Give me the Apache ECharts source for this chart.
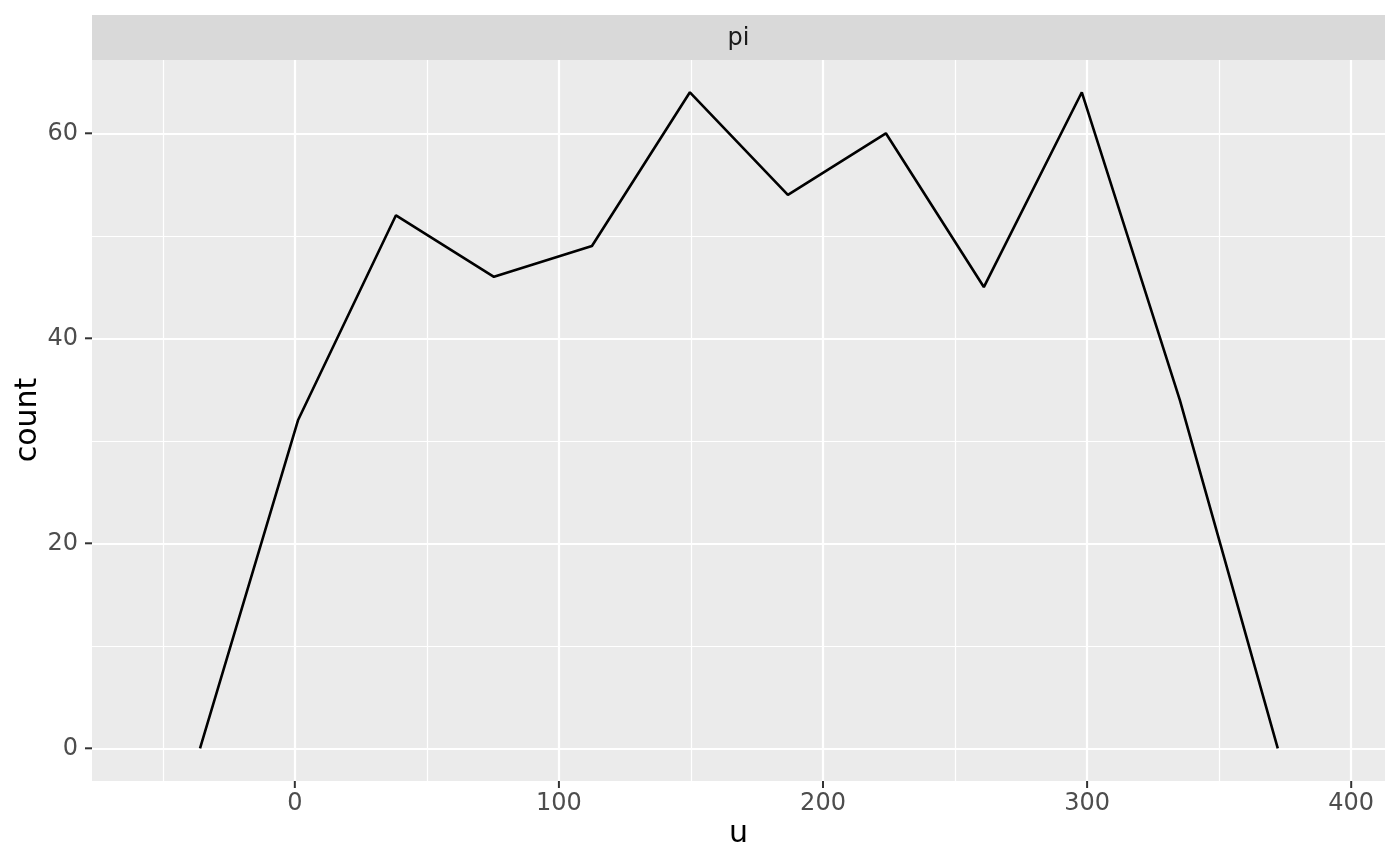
<!DOCTYPE html>
<html>
<head>
<meta charset="utf-8">
<script src="https://cdn.jsdelivr.net/npm/echarts@6/dist/echarts.min.js"></script>
<style>html,body{margin:0;padding:0;background:#fff;}#c{width:1400px;height:865px;}</style>
</head>
<body>
<div id="c"></div>
<script>
// Data
const uCenters = [-35.9, 1.2, 38.3, 75.4, 112.5, 149.6, 186.7, 223.8, 260.9, 298.0, 335.1, 372.2];
const counts = [0, 32, 52, 46, 49, 64, 54, 60, 45, 64, 34, 0];
const xTicks = [0, 100, 200, 300, 400];
const yTicks = [0, 20, 40, 60];
const xMinor = [-50, 50, 150, 250, 350];
const yMinor = [10, 30, 50];
const facetLabel = 'pi';
const xTitle = 'u';
const yTitle = 'count';

const chart = echarts.init(document.getElementById('c'), null, {renderer: 'canvas'});
const FONT = 'DejaVu Sans';
const gridLeft = 92, gridRight = 15, gridTop = 60, gridBottom = 84;
const xMin = -76.8, xMax = 412.8, yMin = -3.19, yMax = 67.15;
const TICK_LEN = 7;

function vLines(vals, w) {
  return vals.map(v => ({xAxis: v, lineStyle: {color: '#ffffff', width: w, type: 'solid'}}));
}
function hLines(vals, w) {
  return vals.map(v => ({yAxis: v, lineStyle: {color: '#ffffff', width: w, type: 'solid'}}));
}

const baseGraphic = [
  {type: 'rect', shape: {x: gridLeft, y: 15, width: 1400 - gridLeft - gridRight, height: 45}, style: {fill: '#d9d9d9'}, z: 10},
  {type: 'text', x: (gridLeft + 1400 - gridRight) / 2, y: 38.5, style: {text: facetLabel, fill: '#1a1a1a', font: '24px "DejaVu Sans"', align: 'center', verticalAlign: 'middle'}, z: 11},
  {type: 'text', x: 738.5, y: 834, style: {text: xTitle, fill: '#000000', font: '30px "DejaVu Sans"', align: 'center', verticalAlign: 'middle'}, z: 11},
  {type: 'text', x: 28, y: 420, rotation: Math.PI / 2, style: {text: yTitle, fill: '#000000', font: '30px "DejaVu Sans"', align: 'center', verticalAlign: 'middle'}, z: 11}
];

const option = {
  backgroundColor: '#ffffff',
  animation: false,
  grid: {
    left: gridLeft, right: gridRight, top: gridTop, bottom: gridBottom,
    show: true, backgroundColor: '#ebebeb', borderWidth: 0, containLabel: false
  },
  xAxis: {
    type: 'value', min: xMin, max: xMax,
    axisLine: {show: false},
    axisTick: {show: false},
    axisLabel: {show: true, customValues: xTicks, color: '#4d4d4d', fontSize: 24, fontFamily: FONT, margin: 11},
    splitLine: {show: false}
  },
  yAxis: {
    type: 'value', min: yMin, max: yMax,
    axisLine: {show: false},
    axisTick: {show: false},
    axisLabel: {show: true, customValues: yTicks, color: '#4d4d4d', fontSize: 24, fontFamily: FONT, margin: 14, padding: [4, 0, 0, 0]},
    splitLine: {show: false}
  },
  series: [
    {
      type: 'line', name: 'gridlines', data: [], z: 1, silent: true,
      markLine: {
        silent: true, symbol: 'none', label: {show: false}, animation: false,
        data: [].concat(vLines(xMinor, 1.2), hLines(yMinor, 1.2), vLines(xTicks, 2.2), hLines(yTicks, 2.2))
      }
    },
    {
      type: 'line', name: 'count', z: 5,
      data: uCenters.map((u, i) => [u, counts[i]]),
      symbol: 'none', showSymbol: false,
      lineStyle: {color: '#000000', width: 2.6},
      itemStyle: {color: '#000000'}
    }
  ],
  graphic: baseGraphic
};
chart.setOption(option);

// Axis ticks positioned through the chart's own scales
const tickStyle = {stroke: '#333333', lineWidth: 2};
const ticks = [];
xTicks.forEach(v => {
  const p = chart.convertToPixel({gridIndex: 0}, [v, yMin]);
  ticks.push({type: 'line', shape: {x1: p[0], y1: p[1], x2: p[0], y2: p[1] + TICK_LEN}, style: tickStyle, z: 12});
});
yTicks.forEach(v => {
  const p = chart.convertToPixel({gridIndex: 0}, [xMin, v]);
  ticks.push({type: 'line', shape: {x1: p[0] - TICK_LEN, y1: p[1], x2: p[0], y2: p[1]}, style: tickStyle, z: 12});
});
chart.setOption({graphic: baseGraphic.concat(ticks)});
</script>
</body>
</html>
